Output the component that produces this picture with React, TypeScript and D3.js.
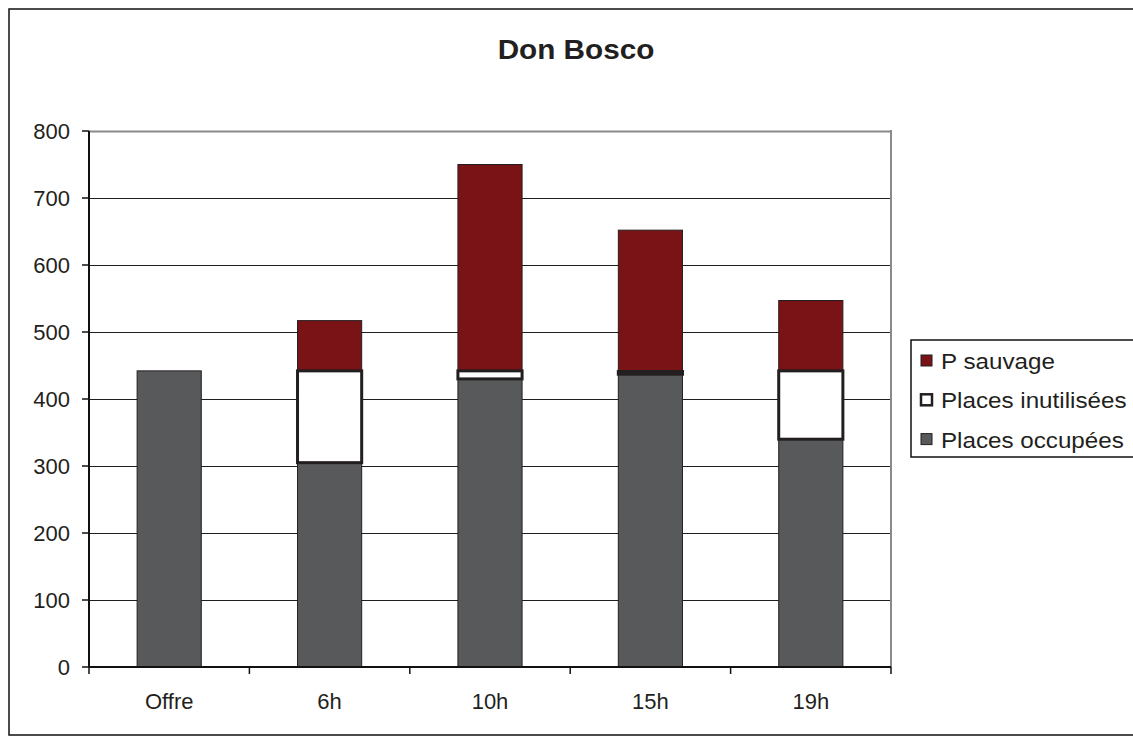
import React from "react";
import * as d3 from "d3";

const categories = ["Offre", "6h", "10h", "15h", "19h"];
const placesOccupees = [442, 305, 430, 437, 340];
const placesInutilisees = [0, 137, 12, 4, 102];
const pSauvage = [0, 75, 308, 211, 105];
const yTicks = [0, 100, 200, 300, 400, 500, 600, 700, 800];
const legendLabels = ["P sauvage", "Places inutilisées", "Places occupées"];
const title = "Don Bosco";

const W = 1133, H = 737;
const plot = { left: 89, right: 891, top: 131, bottom: 667 };
const RED = "#7A1315";
const GRAY = "#58595B";
const DARK = "#231F20";
const FONT = "'Liberation Sans', Arial, sans-serif";

export default function App() {
  const x = d3.scaleBand<string>().domain(categories).range([plot.left, plot.right]).paddingInner(0.6).paddingOuter(0.3);
  const xb = d3.scaleBand<string>().domain(categories).range([plot.left, plot.right]);
  const y = d3.scaleLinear().domain([0, 800]).range([plot.bottom, plot.top]);
  const bw = x.bandwidth();

  const stacks = categories.map((c, i) => ({
    c,
    o: placesOccupees[i],
    u: placesInutilisees[i],
    s: pSauvage[i],
  }));

  return (
    <svg width={W} height={H} style={{ position: "absolute", left: 0, top: 0, background: "#fff" }} fontFamily={FONT}>
      <rect x={9} y={9} width={1140} height={726} fill="#fff" stroke="#111" strokeWidth={1.5} />
      <text x={576} y={59} textAnchor="middle" fontWeight="bold" fontSize={27} fill="#231F20" transform="translate(576,0) scale(1.1,1) translate(-576,0)">{title}</text>
      {yTicks.filter(t => t > 0).map(t => (
        <line key={t} x1={plot.left} x2={plot.right} y1={y(t) + 0.5} y2={y(t) + 0.5} stroke={t === 800 ? "#8a8a8a" : "#1e1e1e"} strokeWidth={t === 800 ? 2 : 1} />
      ))}
      <line x1={plot.right} x2={plot.right} y1={plot.top - 1} y2={plot.bottom} stroke="#8a8a8a" strokeWidth={2} />
      {stacks.map(d => {
        const bx = x(d.c)!;
        return (
          <g key={d.c}>
            <rect x={bx} y={y(d.o)} width={bw} height={y(0) - y(d.o)} fill={GRAY} stroke={DARK} strokeWidth={1} />
            {d.s > 0 && (
              <rect x={bx} y={y(d.o + d.u + d.s)} width={bw} height={y(d.o + d.u) - y(d.o + d.u + d.s)} fill={RED} stroke={DARK} strokeWidth={1} />
            )}
            {d.u > 0 && (
              <rect x={bx} y={y(d.o + d.u)} width={bw} height={y(d.o) - y(d.o + d.u)} fill="#fff" stroke={DARK} strokeWidth={3} />
            )}
          </g>
        );
      })}
      <line x1={plot.left} x2={plot.left} y1={plot.top} y2={plot.bottom} stroke="#111" strokeWidth={2} />
      <line x1={plot.left} x2={plot.right} y1={plot.bottom} y2={plot.bottom} stroke="#111" strokeWidth={2} />
      {yTicks.map(t => (
        <g key={t}>
          <line x1={plot.left - 7} x2={plot.left} y1={y(t)} y2={y(t)} stroke="#111" strokeWidth={1.5} />
          <text x={70} y={y(t)} dy="0.36em" textAnchor="end" fontSize={22} fill="#231F20">{t}</text>
        </g>
      ))}
      {categories.map(c => (
        <g key={c}>
          <line x1={xb(c)!} x2={xb(c)!} y1={plot.bottom} y2={plot.bottom + 7} stroke="#111" strokeWidth={1.5} />
          <text x={xb(c)! + xb.bandwidth() / 2} y={709} textAnchor="middle" fontSize={22} fill="#231F20">{c}</text>
        </g>
      ))}
      <line x1={plot.right} x2={plot.right} y1={plot.bottom} y2={plot.bottom + 7} stroke="#111" strokeWidth={1.5} />
      <rect x={911} y={340} width={240} height={117} fill="#fff" stroke="#111" strokeWidth={1.5} />
      {legendLabels.map((l, i) => {
        const cy = 361 + i * 39.3;
        const fill = i === 0 ? RED : i === 1 ? "#fff" : GRAY;
        const sw = i === 1 ? 2.5 : 1;
        return (
          <g key={l}>
            <rect x={921} y={cy - 6} width={11} height={11} fill={fill} stroke={DARK} strokeWidth={sw} />
            <text x={941} y={cy} dy="0.36em" fontSize={22} fill="#231F20" transform="translate(941,0) scale(1.1,1) translate(-941,0)">{l}</text>
          </g>
        );
      })}
    </svg>
  );
}
